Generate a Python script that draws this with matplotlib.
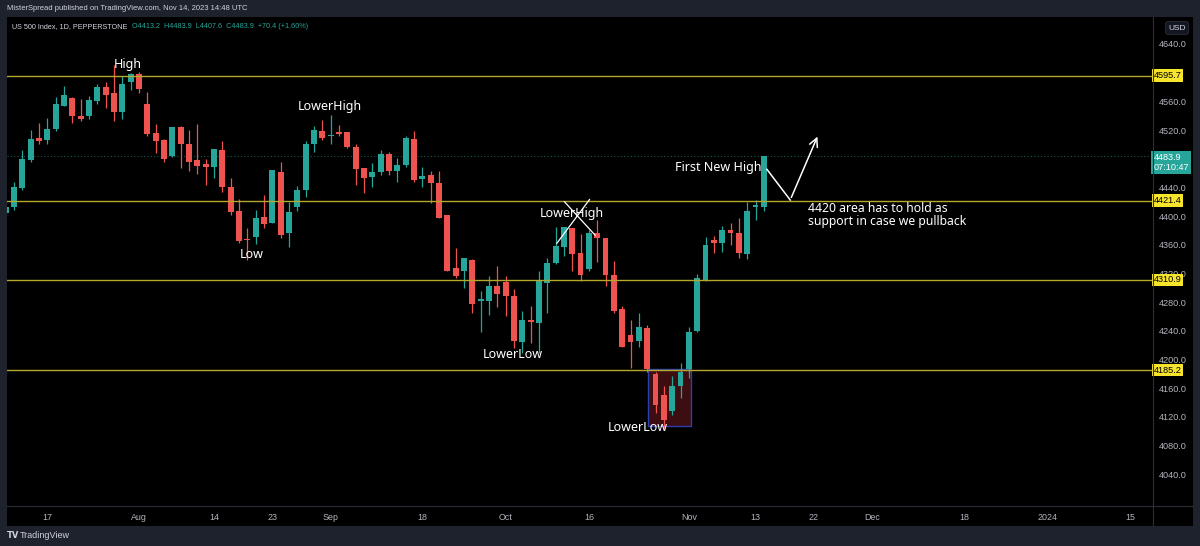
import numpy as np
import matplotlib.pyplot as plt
from matplotlib.patches import Rectangle
from matplotlib.lines import Line2D

# daily candles, bar index 0 = Jul 17 2023
bar_idx = list(range(-5, 87))
opens = [4404, 4413, 4439, 4478, 4509, 4506, 4521, 4554, 4565, 4540, 4539, 4560, 4580, 4572, 4545, 4587,
         4598, 4556, 4516, 4506, 4484, 4524, 4501, 4478, 4473, 4469, 4492, 4441, 4407, 4368, 4371, 4399,
         4391, 4461, 4377, 4413, 4437, 4500, 4519, 4511, 4517, 4517, 4497, 4467, 4454, 4461, 4487, 4463,
         4471, 4508, 4451, 4457, 4446, 4401, 4328, 4323, 4339, 4281, 4282, 4302, 4308, 4288, 4225, 4255,
         4251, 4307, 4334, 4357, 4383, 4349, 4326, 4377, 4369, 4318, 4270, 4234, 4226, 4244, 4180, 4151,
         4128, 4163, 4187, 4240, 4311, 4366, 4362, 4381, 4376, 4347, 4413, 4413.2]
highs = [4416, 4448, 4492, 4520, 4530, 4537, 4566, 4582, 4566, 4563, 4567, 4584, 4587, 4611, 4596, 4599,
         4601, 4573, 4528, 4507, 4524, 4525, 4520, 4528, 4480, 4494, 4504, 4453, 4424, 4383, 4409, 4429,
         4464, 4476, 4420, 4442, 4504, 4525, 4534, 4541, 4527, 4517, 4500, 4467, 4474, 4492, 4490, 4481,
         4512, 4518, 4468, 4463, 4463, 4402, 4355, 4342, 4340, 4295, 4316, 4330, 4317, 4298, 4267, 4275,
         4323, 4341, 4385, 4385, 4384, 4375, 4381, 4394, 4370, 4337, 4275, 4255, 4265, 4248, 4182, 4163,
         4177, 4195, 4245, 4319, 4371, 4372, 4386, 4391, 4397, 4419, 4422, 4483.9]
lows = [4400, 4408, 4436, 4476, 4500, 4500, 4518, 4553, 4530, 4532, 4535, 4556, 4551, 4532, 4535, 4576,
        4571, 4511, 4488, 4476, 4483, 4467, 4463, 4458, 4444, 4453, 4434, 4401, 4362, 4339, 4361, 4384,
        4390, 4370, 4357, 4407, 4427, 4490, 4506, 4501, 4511, 4495, 4443, 4432, 4441, 4457, 4457, 4447,
        4469, 4447, 4441, 4418, 4398, 4323, 4314, 4300, 4265, 4238, 4262, 4273, 4260, 4216, 4209, 4223,
        4209, 4265, 4333, 4344, 4324, 4310, 4324, 4336, 4302, 4265, 4217, 4188, 4218, 4183, 4125, 4104,
        4123, 4147, 4174, 4239, 4309, 4348, 4350, 4360, 4342, 4340, 4394, 4407.6]
closes = [4412, 4441, 4480, 4508, 4504, 4521, 4556, 4569, 4540, 4536, 4562, 4580, 4569, 4545, 4584, 4598,
          4577, 4514, 4505, 4480, 4524, 4500, 4476, 4470, 4468, 4493, 4440, 4405, 4365, 4367, 4398, 4389,
          4464, 4374, 4405, 4437, 4501, 4520, 4509, 4513, 4514, 4496, 4466, 4453, 4462, 4487, 4463, 4471,
          4509, 4450, 4456, 4446, 4398, 4324, 4317, 4341, 4278, 4284, 4302, 4291, 4289, 4226, 4255, 4252,
          4309, 4334, 4358, 4385, 4347, 4318, 4376, 4369, 4318, 4268, 4218, 4225, 4245, 4187, 4137, 4116,
          4163, 4183, 4239, 4313, 4360, 4363, 4381, 4377, 4348, 4407, 4415, 4483.9]

tick_pos = [0, 11, 20, 27, 34, 45, 55, 65, 77, 85, 92, 99, 110, 120, 130]
tick_lbl = ['17', 'Aug', '14', '23', 'Sep', '18', 'Oct', '16', 'Nov', '13', '22', 'Dec', '18', '2024', '15']

levels = [4595.7, 4421.4, 4310.9, 4185.2]
last_price = 4483.9

UP = '#26a69a'
DOWN = '#ef5350'
GRID_TXT = '#b2b5be'
FRAME = '#1e222d'

W, H = 1200, 546
def fx(px):
    return px / W
def fy(py):
    return 1 - py / H

fig = plt.figure(figsize=(12, 5.46), dpi=100, facecolor=FRAME)

# black panel behind chart + axes
bg = fig.add_axes([fx(7), fy(526), fx(1193) - fx(7), fy(17) - fy(526)], zorder=0)
bg.set_facecolor('black')
bg.set_xticks([]); bg.set_yticks([])
for s in bg.spines.values():
    s.set_visible(False)

ax = fig.add_axes([fx(7), fy(506), fx(1153) - fx(7), fy(17) - fy(506)], zorder=1)
ax.set_facecolor('black')
for s in ax.spines.values():
    s.set_visible(False)

o = np.array(opens); c = np.array(closes); hi = np.array(highs); lo = np.array(lows)
x = np.array(bar_idx)
cols = np.where(c >= o, UP, DOWN)
ax.vlines(x, lo, hi, colors=cols, linewidth=0.9, zorder=2)
body = np.maximum(np.abs(c - o), 1.2)
ax.bar(x, body, bottom=np.minimum(o, c), width=0.7, color=cols, linewidth=0, zorder=2)

ax.set_xlim(-4.84, 132.7)
ax.set_ylim(3995.7, 4677.6)

# price scale
yt = [v for v in range(4040, 4641, 40) if v not in (4600, 4480)]
ax.yaxis.tick_right()
ax.set_yticks(yt)
ax.set_yticklabels(['%.1f' % v for v in yt])
ax.tick_params(axis='y', length=0, pad=4.3, labelsize=6.6, labelcolor=GRID_TXT)
ax.set_xticks(tick_pos)
ax.set_xticklabels(tick_lbl)
ax.tick_params(axis='x', length=0, pad=5, labelsize=6.4, labelcolor=GRID_TXT)
for t in ax.get_xticklabels() + ax.get_yticklabels():
    t.set_fontfamily('Liberation Sans')

# horizontal levels
for lv in levels:
    ax.axhline(lv, color='#b5a82c', linewidth=1.0, zorder=3)
    ax.text(1.0005, lv, '%.1f' % lv, transform=ax.get_yaxis_transform(), ha='left', va='center',
            fontsize=6.6, family='Liberation Sans', color='black', zorder=6, clip_on=False,
            bbox=dict(boxstyle='square,pad=0.2', facecolor='#f7e52c', edgecolor='none'))
ax.axhline(last_price, color=UP, linewidth=0.8, linestyle=(0, (1, 2)), alpha=0.55, zorder=1.5)
ax.text(1.0005, 4474.5, '4483.9\n07:10:47', transform=ax.get_yaxis_transform(), ha='left', va='center',
        fontsize=6.6, family='Liberation Sans', color='white', zorder=6, clip_on=False, linespacing=1.05,
        bbox=dict(boxstyle='square,pad=0.25', facecolor=UP, edgecolor='none'))

# box around the low
ax.add_patch(Rectangle((72.15, 4107.7), 5.09, 79.0, facecolor=(0.95, 0.21, 0.27, 0.25),
                       edgecolor='#2b3fae', linewidth=1.0, zorder=1.8))

# annotations
TXT = dict(color='white', fontsize=9, family='Noto Sans', ha='center', va='center', zorder=7)
ax.text(9.69, 4611.9, 'High', **TXT)
ax.text(33.94, 4553.4, 'LowerHigh', **TXT)
ax.text(24.57, 4347.0, 'Low', **TXT)
ax.text(62.99, 4402.9, 'LowerHigh', **TXT)
ax.text(55.9, 4206.3, 'LowerLow', **TXT)
ax.text(70.9, 4104.5, 'LowerLow', **TXT)
ax.text(80.5, 4468.4, 'First New High', **TXT)
ax.text(91.3, 4401.2, '4420 area has to hold as\nsupport in case we pullback', color='white', fontsize=8.8,
        family='Noto Sans', ha='left', va='center', linespacing=1.0, zorder=7)

ax.plot([62.06, 65.75], [4420, 4373.3], color='white', linewidth=0.9, zorder=7)
ax.plot([61.15, 65.07], [4362, 4423], color='white', linewidth=0.9, zorder=7)

ax.plot([86.36, 89.16], [4465.2, 4422.4], color='white', linewidth=1.1, zorder=7)
ax.annotate('', xy=(92.56, 4514.4), xytext=(89.16, 4422.4),
            arrowprops=dict(arrowstyle='->,head_length=0.6,head_width=0.3', color='white', lw=1.1), zorder=7)

# separators
fig.add_artist(Line2D([fx(1153), fx(1153)], [fy(17), fy(526)], color='#2a2e39', linewidth=0.8, zorder=5))
fig.add_artist(Line2D([fx(7), fx(1193)], [fy(506), fy(506)], color='#2a2e39', linewidth=0.8, zorder=5))

# header / footer
fig.text(fx(7), fy(9), 'MisterSpread published on TradingView.com, Nov 14, 2023 14:48 UTC',
         color='#d1d4dc', fontsize=5.5, family='Liberation Sans', va='center', ha='left')
fig.text(fx(12), fy(27), 'US 500 Index, 1D, PEPPERSTONE', color='#d1d4dc', fontsize=5.2,
         family='Liberation Sans', va='center', ha='left', zorder=5)
fig.text(fx(132), fy(27), 'O4413.2  H4483.9  L4407.6  C4483.9  +70.4 (+1.60%)', color=UP, fontsize=5.2,
         family='Liberation Sans', va='center', ha='left', zorder=5)

fig.text(fx(1177), fy(28), 'USD', color='#d1d4dc', fontsize=6, family='Liberation Sans', ha='center', va='center',
         zorder=5, bbox=dict(boxstyle='round,pad=0.35', facecolor='#131722', edgecolor='#2a2e39', linewidth=0.6))

fig.text(fx(7), fy(536), 'TV', color='#d1d4dc', fontsize=6, family='DejaVu Sans', weight='bold', va='center')
fig.text(fx(20), fy(536), 'TradingView', color='#d1d4dc', fontsize=6.5, family='Liberation Sans', va='center')

fig.savefig('out.png', dpi=100, facecolor=FRAME)
